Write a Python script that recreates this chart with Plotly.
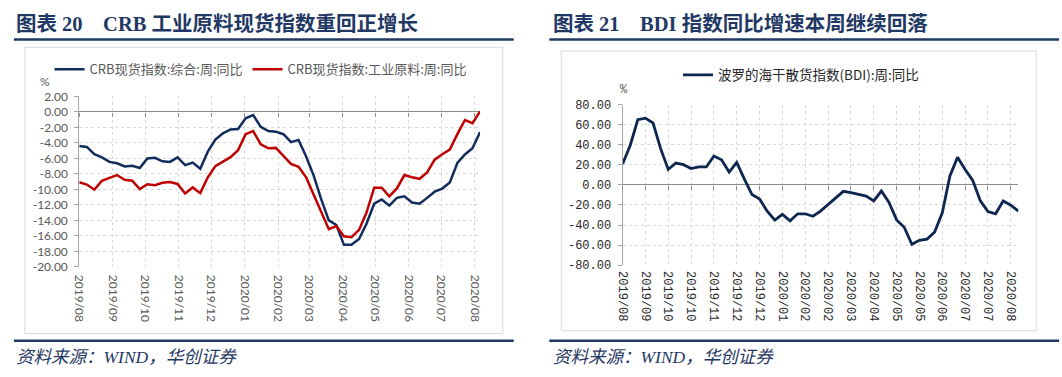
import plotly.graph_objects as go
import pandas as pd

W, H = 1062, 377

# ---------------- Left chart: CRB spot index YoY (weekly, %) ----------------
crb_dates = pd.date_range("2019-08-02", periods=54, freq="7D")
crb_composite = [-4.40, -4.53, -5.47, -5.88, -6.46, -6.63, -7.04, -6.95, -7.24, -6.01,
                 -5.93, -6.38, -6.46, -5.88, -6.87, -6.54, -7.33, -5.14, -3.58, -2.76,
                 -2.26, -2.22, -0.82, -0.41, -1.93, -2.47, -2.55, -2.88, -3.91, -3.62,
                 -5.76, -8.23, -11.30, -14.00, -14.60, -17.16, -17.16, -16.40, -14.40, -11.85,
                 -11.30, -12.10, -11.10, -10.90, -11.70, -11.85, -11.10, -10.30, -9.90, -9.10,
                 -6.60, -5.50, -4.70, -2.60]
crb_industrial = [-9.09, -9.38, -10.04, -8.89, -8.52, -8.15, -8.77, -8.89, -9.96, -9.34,
                  -9.47, -9.14, -9.05, -9.30, -10.53, -9.75, -10.49, -8.44, -7.00, -6.38,
                  -5.84, -4.94, -2.88, -2.47, -4.20, -4.70, -4.65, -5.68, -6.71, -7.08,
                  -8.44, -10.70, -12.96, -15.14, -14.73, -16.05, -16.17, -15.23, -12.96, -9.79,
                  -9.79, -10.90, -9.88, -8.15, -8.44, -8.64, -7.82, -6.17, -5.47, -4.86,
                  -2.88, -1.05, -1.45, 0.07]
crb_names = ["CRB现货指数:综合:周:同比", "CRB现货指数:工业原料:周:同比"]
left_tick_labels = ["2019/08", "2019/09", "2019/10", "2019/11", "2019/12", "2020/01", "2020/02",
                    "2020/03", "2020/04", "2020/05", "2020/06", "2020/07", "2020/08"]
left_tick_vals = [pd.Timestamp(lbl.replace("/", "-") + "-02") for lbl in left_tick_labels]
left_y_vals = list(range(-20, 3, 2))
left_y_text = [f"{v:.2f}" for v in left_y_vals]

# ---------------- Right chart: BDI YoY (weekly, %) ----------------
bdi_dates = [d.strftime("%Y-%m-%d") for d in pd.date_range("2019-08-23", periods=53, freq="7D")]
bdi_yoy = [20.8, 39.4, 65.0, 66.6, 61.8, 36.2, 15.4, 21.8, 20.2, 16.3,
           17.9, 17.9, 28.8, 25.0, 12.8, 22.4, 5.8, -9.6, -14.1, -26.2,
           -35.2, -29.4, -35.8, -28.8, -28.8, -31.3, -26.2, -19.8, -12.8, -6.4,
           -7.7, -9.3, -11.2, -16.0, -6.1, -17.5, -34.9, -42.2, -59.2, -55.2,
           -54.1, -47.0, -27.8, 9.0, 27.5, 15.4, 4.5, -16.0, -26.5, -28.8,
           -16.0, -20.3, -26.2]
bdi_name = "波罗的海干散货指数(BDI):周:同比"
right_tick_vals = bdi_dates[::3]
right_tick_text = [d[:7].replace("-", "/") for d in right_tick_vals]
right_y_vals = list(range(-80, 81, 20))
right_y_text = [f"{v:.2f}" for v in right_y_vals]

titles = ["图表 20\u00a0\u00a0\u00a0\u00a0CRB 工业原料现货指数重回正增长",
          "图表 21\u00a0\u00a0\u00a0\u00a0BDI 指数同比增速本周继续回落"]
source_text = "资料来源：WIND，华创证券"

NAVY = "#1F3864"
GRID = "#D9D9D9"
AXIS = "#A6A6A6"


def px_x(x):
    return x / W


def px_y(y):
    return 1 - y / H


L_DOM_Y = [px_y(270.3), px_y(92.3)]
R_DOM_Y = [px_y(268.5), px_y(101)]
left_zero_pos = L_DOM_Y[0] + (0 - (-20)) / 22 * (L_DOM_Y[1] - L_DOM_Y[0])
right_zero_pos = R_DOM_Y[0] + (0 - (-80)) / 160 * (R_DOM_Y[1] - R_DOM_Y[0])

fig = go.Figure()
fig.add_trace(go.Scatter(x=crb_dates, y=crb_composite, mode="lines", name=crb_names[0],
                         line=dict(color="#102D5E", width=2.5), xaxis="x", yaxis="y",
                         legend="legend"))
fig.add_trace(go.Scatter(x=crb_dates, y=crb_industrial, mode="lines", name=crb_names[1],
                         line=dict(color="#C00000", width=2.5), xaxis="x", yaxis="y",
                         legend="legend3"))
# helper (empty) trace carrying the zero-line tick axis
fig.add_trace(go.Scatter(x=crb_dates, y=[None] * len(crb_dates), mode="lines", xaxis="x3",
                         yaxis="y", showlegend=False, hoverinfo="skip"))

fig.add_trace(go.Scatter(x=bdi_dates, y=bdi_yoy, mode="lines", name=bdi_name,
                         line=dict(color="#0C2650", width=2.8), xaxis="x2", yaxis="y2",
                         legend="legend2"))
fig.add_trace(go.Scatter(x=bdi_dates, y=[None] * len(bdi_dates), mode="lines", xaxis="x4",
                         yaxis="y2", showlegend=False, hoverinfo="skip"))

left_tickfont = dict(family="Lato, Open Sans, sans-serif", size=12, color="#595959")
right_tickfont = dict(family="Liberation Mono, monospace", size=12, color="#262626")
left_legend_font = dict(family="Noto Sans CJK SC", size=13, color="#595959")

fig.update_layout(
    width=W, height=H, autosize=False,
    margin=dict(l=0, r=0, t=0, b=0),
    paper_bgcolor="white", plot_bgcolor="white",
    xaxis=dict(domain=[px_x(72), px_x(477)], anchor="y", type="date",
               range=[crb_dates[0], crb_dates[-1]],
               tickvals=left_tick_vals, ticktext=left_tick_labels, tickangle=90,
               tickfont=left_tickfont, showgrid=True, gridcolor=GRID, griddash="dot",
               gridwidth=1, ticks="", showline=False, zeroline=False,
               ticklabelstandoff=7),
    yaxis=dict(domain=L_DOM_Y, anchor="x", range=[-20, 2], tickvals=left_y_vals,
               ticktext=left_y_text, tickfont=left_tickfont, showgrid=True, gridcolor=GRID,
               griddash="dot", showline=True, linecolor=AXIS, ticks="outside", ticklen=4,
               tickcolor=AXIS, zeroline=True, zerolinecolor="#8C8C8C", zerolinewidth=1,
               ticklabelstandoff=4),
    xaxis3=dict(overlaying="x", anchor="free", position=left_zero_pos, type="date",
                range=[crb_dates[0], crb_dates[-1]], tickvals=left_tick_vals,
                showticklabels=False, ticks="outside", ticklen=4, tickcolor="#8C8C8C",
                showgrid=False, showline=False, zeroline=False),
    xaxis2=dict(domain=[px_x(621), px_x(1021)], anchor="y2", type="category",
                range=[0, len(bdi_dates) - 1], tickvals=right_tick_vals,
                ticktext=right_tick_text, tickangle=90, tickfont=right_tickfont,
                showgrid=True, gridcolor=GRID, griddash="dot", ticks="", showline=False,
                zeroline=False, ticklabelstandoff=5),
    yaxis2=dict(domain=R_DOM_Y, anchor="x2", range=[-80, 80], tickvals=right_y_vals,
                ticktext=right_y_text, tickfont=right_tickfont, showgrid=True,
                gridcolor=GRID, griddash="dot", showline=True, linecolor=AXIS,
                ticks="outside", ticklen=4, tickcolor=AXIS, zeroline=True,
                zerolinecolor="#8C8C8C", zerolinewidth=1, ticklabelstandoff=4),
    xaxis4=dict(overlaying="x2", anchor="free", position=right_zero_pos, type="category",
                range=[0, len(bdi_dates) - 1], tickvals=right_tick_vals,
                showticklabels=False, ticks="outside", ticklen=4, tickcolor="#8C8C8C",
                showgrid=False, showline=False, zeroline=False),
    legend=dict(x=px_x(42), y=px_y(64), xanchor="left", yanchor="middle",
                orientation="h", bgcolor="rgba(0,0,0,0)", font=left_legend_font),
    legend3=dict(x=px_x(242), y=px_y(64), xanchor="left", yanchor="middle",
                 orientation="h", bgcolor="rgba(0,0,0,0)", font=left_legend_font),
    legend2=dict(x=px_x(677), y=px_y(70), xanchor="left", yanchor="middle",
                 orientation="h", bgcolor="rgba(0,0,0,0)",
                 font=dict(family="Noto Sans CJK SC", size=13.5, color="#262626")),
    showlegend=True,
)

shapes = []
# chart boxes
shapes.append(dict(type="rect", xref="paper", yref="paper", x0=px_x(17), x1=px_x(500),
                   y0=px_y(340), y1=px_y(41), line=dict(color=GRID, width=1), layer="below"))
shapes.append(dict(type="rect", xref="paper", yref="paper", x0=px_x(559), x1=px_x(1039),
                   y0=px_y(337), y1=px_y(45), line=dict(color=GRID, width=1), layer="below"))
# title / footer rules
for (xa, xb) in [(6, 511), (547, 1062)]:
    for yy in (33, 347.5):
        shapes.append(dict(type="line", xref="paper", yref="paper", x0=px_x(xa), x1=px_x(xb),
                           y0=px_y(yy), y1=px_y(yy), line=dict(color=NAVY, width=2.5)))
fig.update_layout(shapes=shapes)

title_font = dict(family="Liberation Serif, Noto Sans CJK SC", size=20.5, color=NAVY,
                  weight="bold")
source_font = dict(family="Liberation Serif, Noto Sans CJK SC", size=17.5, color=NAVY,
                   style="italic")
annotations = [
    dict(text=titles[0], x=px_x(6), y=px_y(16), xref="paper", yref="paper",
         xanchor="left", yanchor="middle", showarrow=False, font=title_font),
    dict(text=titles[1], x=px_x(549), y=px_y(16), xref="paper", yref="paper",
         xanchor="left", yanchor="middle", showarrow=False, font=title_font),
    dict(text=source_text, x=px_x(6), y=px_y(364), xref="paper", yref="paper",
         xanchor="left", yanchor="middle", showarrow=False, font=source_font),
    dict(text=source_text, x=px_x(549), y=px_y(364), xref="paper", yref="paper",
         xanchor="left", yanchor="middle", showarrow=False, font=source_font),
    dict(text="%", x=px_x(37), y=px_y(77), xref="paper", yref="paper",
         xanchor="center", yanchor="middle", showarrow=False,
         font=dict(family="Lato, sans-serif", size=12, color="#595959")),
    dict(text="%", x=px_x(622), y=px_y(86), xref="paper", yref="paper",
         xanchor="center", yanchor="middle", showarrow=False,
         font=dict(family="Liberation Mono, monospace", size=12, color="#595959")),
]
fig.update_layout(annotations=annotations)

fig.write_html("out.html",
               config={"displayModeBar": False},
               post_script="document.body.style.margin='0';"
                           "document.body.style.overflow='hidden';")
